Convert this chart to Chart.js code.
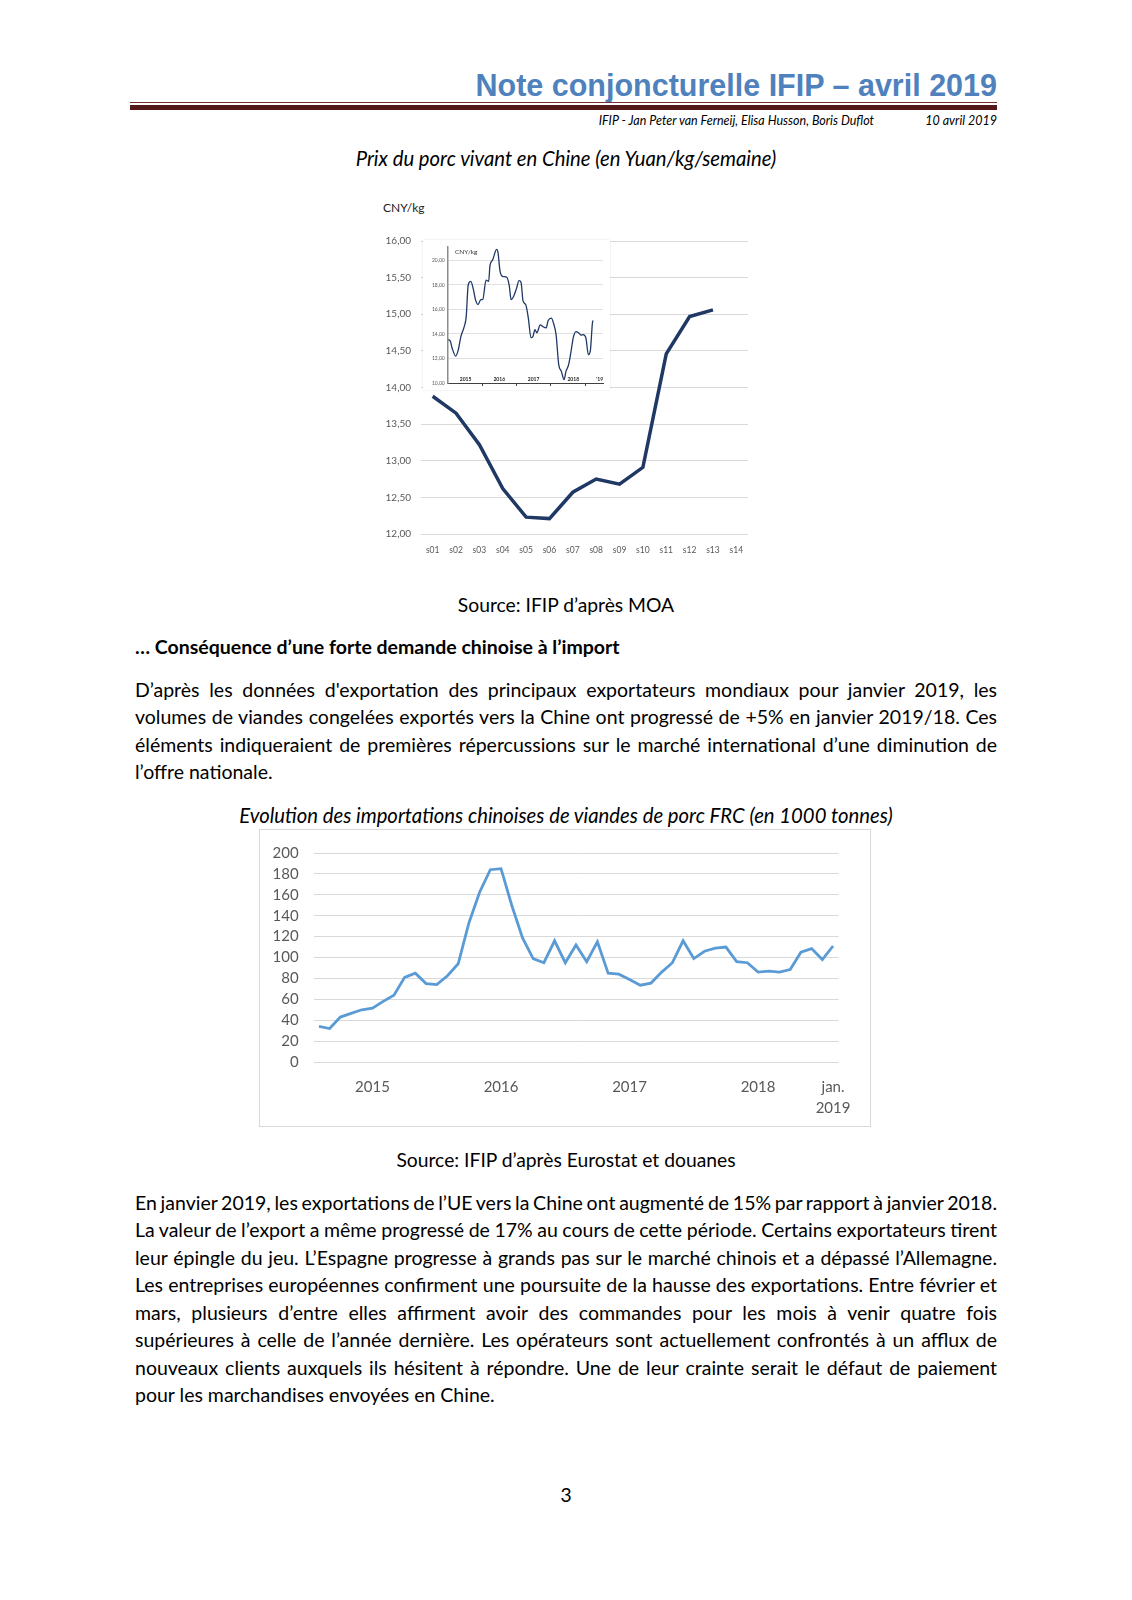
<!DOCTYPE html>
<html lang="fr">
<head>
<meta charset="utf-8">
<title>Note conjoncturelle IFIP – avril 2019</title>
<script src="https://cdn.jsdelivr.net/npm/chart.js@4.4.1/dist/chart.umd.min.js"></script>
<style>
html, body { margin: 0; padding: 0; background: #fff; }
body { width: 1132px; height: 1600px; position: relative; overflow: hidden; font-family: Lato, 'Open Sans', sans-serif; color: #000; }
.abs { position: absolute; white-space: nowrap; }
.line { position: absolute; left: 135px; width: 862px; height: 20px; line-height: 20px; font-size: 19.5px; white-space: nowrap; }
.center { position: absolute; left: 0; width: 1132px; height: 20px; line-height: 20px; text-align: center; white-space: nowrap; font-size: 19.3px; }
.cw { position: absolute; }
.cw canvas { display: block; }
#titre { right: 135px; top: 68px; font-family: 'Liberation Sans', Arial, sans-serif; font-weight: bold; font-size: 30.5px; line-height: 34px; color: #4f81bd; }
#filet1 { left: 130px; width: 867px; top: 102px; height: 1px; background: #7b2c2c; }
#filet2 { left: 130px; width: 867px; top: 105px; height: 5px; background: #541a1a; }
.sous { top: 113px; height: 15px; line-height: 15px; font-size: 12.5px; font-style: italic; }
.ital { font-style: italic; font-size: 20.3px; }
#cadre2 { left: 259px; top: 829px; width: 612px; height: 298px; border: 1.5px solid #d9d9d9; box-sizing: border-box; }
#insetBox { left: 423px; top: 240px; width: 187px; height: 150px; background: #fff; box-shadow: 0 0 2px rgba(0,0,0,0.12); }
</style>
</head>
<body>

<div id="titre" class="abs">Note conjoncturelle IFIP – avril 2019</div>
<div id="filet1" class="abs"></div>
<div id="filet2" class="abs"></div>
<div class="abs sous" style="right:258px;">IFIP - Jan Peter van Ferneij, Elisa Husson, Boris Duflot</div>
<div class="abs sous" style="right:135px;">10 avril 2019</div>

<div class="center ital" style="top:148px;">Prix du porc vivant en Chine (en Yuan/kg/semaine)</div>

<div class="abs" style="left:383px; top:200px; font-size:12px; line-height:16px; color:#222;">CNY/kg</div>
<div class="cw" style="left:370px; top:225px; width:390px; height:335px;"><canvas id="prixChart"></canvas></div>
<div class="cw" id="insetBox"><canvas id="insetChart"></canvas></div>
<div class="abs" style="left:455px; top:248px; font-size:6.5px; line-height:8px; color:#333;">CNY/kg</div>

<div class="center" style="top:595px;">Source: IFIP d’après MOA</div>

<div class="line" style="top:637px; font-weight:bold;">… Conséquence d’une forte demande chinoise à l’import</div>

<div class="line just" style="top:680px;"><span>D’après les données d'exportation des principaux exportateurs mondiaux pour janvier 2019, les</span></div>
<div class="line just" style="top:707px;"><span>volumes de viandes congelées exportés vers la Chine ont progressé de +5% en janvier 2019/18. Ces</span></div>
<div class="line just" style="top:735px;"><span>éléments indiqueraient de premières répercussions sur le marché international d’une diminution de</span></div>
<div class="line" style="top:762px;"><span>l’offre nationale.</span></div>

<div class="center ital" style="top:805px;">Evolution des importations chinoises de viandes de porc FRC (en 1000 tonnes)</div>

<div class="abs" id="cadre2"></div>
<div class="cw" style="left:259px; top:829px; width:612px; height:298px;"><canvas id="importChart"></canvas></div>

<div class="center" style="top:1150px;">Source: IFIP d’après Eurostat et douanes</div>

<div class="line just" style="top:1193px;"><span>En janvier 2019, les exportations de l’UE vers la Chine ont augmenté de 15% par rapport à janvier 2018.</span></div>
<div class="line just" style="top:1220px;"><span>La valeur de l’export a même progressé de 17% au cours de cette période. Certains exportateurs tirent</span></div>
<div class="line just" style="top:1248px;"><span>leur épingle du jeu. L’Espagne progresse à grands pas sur le marché chinois et a dépassé l’Allemagne.</span></div>
<div class="line just" style="top:1275px;"><span>Les entreprises européennes confirment une poursuite de la hausse des exportations. Entre février et</span></div>
<div class="line just" style="top:1303px;"><span>mars, plusieurs d’entre elles affirment avoir des commandes pour les mois à venir quatre fois</span></div>
<div class="line just" style="top:1330px;"><span>supérieures à celle de l’année dernière. Les opérateurs sont actuellement confrontés à un afflux de</span></div>
<div class="line just" style="top:1358px;"><span>nouveaux clients auxquels ils hésitent à répondre. Une de leur crainte serait le défaut de paiement</span></div>
<div class="line" style="top:1385px;"><span>pour les marchandises envoyées en Chine.</span></div>

<div class="center" style="top:1485px;">3</div>

<script>
// Prix du porc vivant 2019 (CNY/kg), semaines s01..s14
const semaines = ['s01', 's02', 's03', 's04', 's05', 's06', 's07', 's08', 's09', 's10', 's11', 's12', 's13', 's14'];
const prix2019 = [13.88, 13.65, 13.22, 12.62, 12.23, 12.21, 12.57, 12.75, 12.68, 12.91, 14.46, 14.97, 15.06];

// Encart : prix depuis 2015 (semaine depuis janvier 2015)
const insetWeeks = [1, 4, 7, 12, 16, 20, 25, 28, 31, 35, 39, 42, 46, 50, 53, 58, 62, 64, 68, 74, 76, 79, 83, 89, 93, 96, 100, 104, 108, 111, 114, 118, 122, 126, 129, 132, 135, 140, 144, 149, 152, 157, 160, 164, 168, 172, 176, 179, 183, 187, 190, 194, 198, 202, 205, 209, 213, 216, 219, 220];
const insetPrix = [13.55, 13.4, 12.8, 12.2, 12.7, 13.8, 14.6, 15.4, 18.0, 18.3, 17.6, 16.8, 16.4, 16.8, 16.8, 18.4, 18.3, 19.6, 20.05, 20.9, 20.7, 19.2, 18.7, 18.65, 18.0, 16.8, 17.1, 17.7, 18.35, 18.2, 16.7, 16.4, 15.3, 13.7, 13.8, 14.35, 14.1, 14.75, 14.6, 14.5, 15.1, 15.3, 14.9, 13.95, 11.5, 10.95, 10.27, 10.95, 11.5, 12.7, 13.7, 14.2, 14.1, 13.9, 13.95, 13.7, 12.3, 12.7, 14.9, 15.1];
const insetYearLabels = ['2015', '2016', '2017', '2018', "'19"];
const insetYearAt = [27, 78, 130, 190, 230];
const insetYearMarks = [53, 104, 156, 208];

// Importations chinoises de viandes de porc FRC (1000 t), janv. 2015 .. janv. 2019
const moisCourts = ['janv.', 'févr.', 'mars', 'avr.', 'mai', 'juin', 'juil.', 'août', 'sept.', 'oct.', 'nov.', 'déc.'];
const annees = [2015, 2016, 2017, 2018, 2019];
const importations = [34, 32, 43, 46.5, 50, 51.5, 58, 64, 81, 85, 75, 74, 82.5, 94, 133, 162.5, 184, 185, 150, 119,
    99, 95, 116, 95, 112, 96, 115, 85, 84, 79, 73.5, 75.5, 86, 95, 116, 99, 106, 109, 110, 96,
    95, 86, 87, 86, 88.5, 105, 108.5, 98, 111];
const anneeLabels = ['2015', '2016', '2017', '2018', ['jan.', '2019']];
const anneeIdx = [5, 17, 29, 41, 48];

const mois = [];
annees.forEach(a => moisCourts.forEach(m => { if (mois.length < importations.length) mois.push(m + ' ' + a); }));

Chart.defaults.font.family = "Lato, 'Open Sans', sans-serif";
Chart.defaults.color = '#595959';
Chart.defaults.animation = false;
Chart.defaults.plugins.legend.display = false;
Chart.defaults.plugins.tooltip.enabled = false;

const virgule = v => Number(v).toFixed(2).replace('.', ',');

// Graphique principal - prix 2019
new Chart(document.getElementById('prixChart'), {
    type: 'line',
    data: {
        labels: semaines,
        datasets: [{
            data: prix2019,
            borderColor: '#1f3864',
            borderWidth: 3.5,
            pointRadius: 0,
            tension: 0,
            fill: false
        }]
    },
    options: {
        responsive: true,
        maintainAspectRatio: false,
        layout: { padding: { left: 0, right: 12, top: 15, bottom: 0 } },
        scales: {
            x: {
                offset: true,
                grid: { display: false },
                border: { display: false },
                ticks: { font: { size: 8.5 }, padding: 3, maxRotation: 0, autoSkip: false },
                afterFit: s => { s.height = 26; }
            },
            y: {
                min: 12,
                max: 16,
                ticks: { stepSize: 0.5, autoSkip: false, font: { size: 10 }, padding: 10, callback: v => virgule(v) },
                grid: { color: '#d9d9d9', drawTicks: false },
                border: { display: false },
                afterFit: s => { s.width = 51; }
            }
        }
    }
});

// Encart - historique depuis 2015
new Chart(document.getElementById('insetChart'), {
    type: 'line',
    data: {
        datasets: [{
            data: insetWeeks.map((w, i) => ({ x: w, y: insetPrix[i] })),
            borderColor: '#1f3864',
            borderWidth: 1.3,
            pointRadius: 0,
            cubicInterpolationMode: 'monotone'
        }]
    },
    options: {
        responsive: true,
        maintainAspectRatio: false,
        layout: { padding: { left: 0, right: 7, top: 7, bottom: 3 } },
        scales: {
            x: {
                type: 'linear',
                min: 0,
                max: 235,
                afterBuildTicks: s => {
                    s.ticks = insetYearAt.concat(insetYearMarks).sort((a, b) => a - b).map(v => ({ value: v }));
                },
                ticks: {
                    autoSkip: false,
                    maxRotation: 0,
                    mirror: true,
                    font: { size: 5, weight: 'bold' },
                    color: '#262626',
                    padding: 1,
                    callback: v => {
                        const i = insetYearAt.indexOf(v);
                        return i >= 0 ? insetYearLabels[i] : '';
                    }
                },
                grid: {
                    drawOnChartArea: false,
                    tickLength: 3,
                    color: c => (c.tick && insetYearMarks.includes(c.tick.value)) ? '#404040' : 'rgba(0,0,0,0)'
                },
                border: { color: '#404040', width: 1 },
                afterFit: s => { s.height = 4; }
            },
            y: {
                min: 10,
                max: 21.1,
                ticks: { stepSize: 2, includeBounds: false, autoSkip: false, font: { size: 5 }, padding: 3, callback: v => virgule(v) },
                grid: { color: '#e0e0e0', drawTicks: false },
                border: { color: '#8c8c8c', width: 1.5 },
                afterFit: s => { s.width = 24.7; }
            }
        }
    }
});

// Importations chinoises
new Chart(document.getElementById('importChart'), {
    type: 'line',
    data: {
        labels: mois,
        datasets: [{
            data: importations,
            borderColor: '#5b9bd5',
            borderWidth: 2.8,
            pointRadius: 0,
            tension: 0
        }]
    },
    options: {
        responsive: true,
        maintainAspectRatio: false,
        layout: { padding: { left: 0, right: 32.6, top: 21, bottom: 0 } },
        scales: {
            x: {
                offset: true,
                grid: { display: false },
                border: { display: false },
                ticks: {
                    autoSkip: false,
                    maxRotation: 0,
                    font: { size: 15, lineHeight: 1.4 },
                    padding: 7,
                    callback: (v, i) => {
                        const k = anneeIdx.indexOf(i);
                        return k >= 0 ? anneeLabels[k] : '';
                    }
                },
                afterFit: s => { s.height = 65; }
            },
            y: {
                min: 0,
                max: 200,
                ticks: { stepSize: 20, autoSkip: false, font: { size: 15 }, padding: 15 },
                grid: { color: '#d9d9d9', drawTicks: false },
                border: { display: false },
                afterFit: s => { s.width = 54.6; }
            }
        }
    }
});

// Justification des lignes de texte
function justifier() {
    document.querySelectorAll('.just').forEach(el => {
        const span = el.firstElementChild;
        el.style.wordSpacing = '0px';
        const w = span.getBoundingClientRect().width;
        const espaces = (span.textContent.match(/ /g) || []).length;
        if (espaces) el.style.wordSpacing = ((862 - w) / espaces) + 'px';
    });
}
justifier();
if (document.fonts) document.fonts.ready.then(justifier);
</script>
</body>
</html>
